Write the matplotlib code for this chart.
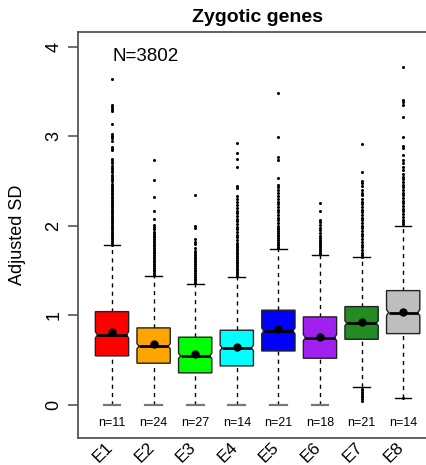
import numpy as np
import matplotlib
matplotlib.use('Agg')
import matplotlib.pyplot as plt

plt.rcParams['font.family'] = ['Liberation Sans', 'DejaVu Sans']

# box statistics per embryo stage
groups = ['E1', 'E2', 'E3', 'E4', 'E5', 'E6', 'E7', 'E8']
counts = [11, 24, 27, 14, 21, 18, 21, 14]
colors = ['#FF0000', '#FFA500', '#00FF00', '#00FFFF', '#0000FF', '#A020F0', '#228B22', '#BEBEBE']
q1 = [0.545, 0.463, 0.355, 0.433, 0.600, 0.519, 0.731, 0.794]
medians = [0.780, 0.653, 0.545, 0.634, 0.824, 0.749, 0.910, 1.029]
q3 = [1.040, 0.858, 0.754, 0.832, 1.056, 0.981, 1.096, 1.275]
means = [0.810, 0.675, 0.567, 0.649, 0.850, 0.757, 0.928, 1.037]
whisk_lo = [0.0, 0.0, 0.0, 0.0, 0.0, 0.0, 0.195, 0.078]
whisk_hi = [1.786, 1.443, 1.350, 1.425, 1.742, 1.674, 1.649, 2.000]
genes_per_group = 3802 / 8

# outliers
out_e1 = [3.64, 3.35, 3.33, 3.31, 3.28, 3.14, 3.03, 3.00, 2.98, 2.95, 2.88, 2.86, 2.85,
          2.75, 2.72, 2.70, 2.67, 2.65, 2.62, 2.60, 2.57, 2.55, 2.52, 2.50, 2.47, 2.45,
          2.43, 2.41, 2.39, 2.37, 2.35, 2.33, 2.31, 2.29, 2.27, 2.25, 2.23, 2.21, 2.19,
          2.17, 2.15, 2.13, 2.11, 2.09, 2.07, 2.05, 2.03, 2.01, 1.99, 1.97, 1.95, 1.93,
          1.91, 1.89, 1.87, 1.85, 1.83, 1.81, 1.79]
out_e2 = [2.74, 2.51, 2.32, 2.17, 2.08, 2.01, 1.99, 1.96, 1.93, 1.91, 1.89, 1.87, 1.85,
          1.83, 1.81, 1.79, 1.77, 1.75, 1.73, 1.71, 1.69, 1.67, 1.65, 1.63, 1.61, 1.59,
          1.57, 1.55, 1.53, 1.51, 1.49, 1.47, 1.45]
out_e3 = [2.34, 2.00, 1.97, 1.85, 1.82, 1.80, 1.75, 1.72, 1.69, 1.67, 1.65, 1.63, 1.61,
          1.59, 1.57, 1.55, 1.53, 1.51, 1.49, 1.47, 1.45, 1.43, 1.41, 1.39, 1.37, 1.36]
out_e4 = [2.93, 2.81, 2.75, 2.66, 2.44, 2.42, 2.33, 2.30, 2.27, 2.23, 2.20, 2.17, 2.14,
          2.11, 2.08, 2.05, 2.02, 1.99, 1.96, 1.93, 1.90, 1.87, 1.84, 1.81, 1.78, 1.76,
          1.74, 1.72, 1.70, 1.68, 1.66, 1.64, 1.62, 1.60, 1.58, 1.56, 1.54, 1.52, 1.50,
          1.48, 1.46, 1.44]
out_e5 = [3.49, 2.99, 2.77, 2.73, 2.53, 2.46, 2.43, 2.40, 2.37, 2.33, 2.30, 2.27, 2.24,
          2.21, 2.18, 2.15, 2.12, 2.09, 2.06, 2.03, 2.00, 1.98, 1.96, 1.94, 1.92, 1.90,
          1.88, 1.86, 1.84, 1.82, 1.80, 1.78, 1.76, 1.75]
out_e6 = [2.26, 2.16, 2.07, 2.04, 2.01, 1.98, 1.95, 1.92, 1.89, 1.86, 1.84, 1.82, 1.80,
          1.78, 1.76, 1.74, 1.72, 1.70, 1.68]
out_e7 = [2.91, 2.60, 2.50, 2.48, 2.45, 2.40, 2.37, 2.34, 2.30, 2.27, 2.24, 2.21, 2.18,
          2.15, 2.12, 2.09, 2.06, 2.03, 2.00, 1.97, 1.94, 1.91, 1.88, 1.85, 1.82, 1.79,
          1.76, 1.73, 1.70, 1.67, 1.65,
          0.18, 0.16, 0.14, 0.12, 0.10, 0.08, 0.06, 0.04]
out_e8 = [3.77, 3.41, 3.38, 3.35, 3.22, 2.99, 2.89, 2.87, 2.79, 2.73, 2.70, 2.66, 2.62,
          2.58, 2.55, 2.52, 2.49, 2.46, 2.43, 2.40, 2.37, 2.34, 2.31, 2.28, 2.25, 2.22,
          2.19, 2.16, 2.13, 2.10, 2.07, 2.04, 2.02, 0.07]
outliers = [out_e1, out_e2, out_e3, out_e4, out_e5, out_e6, out_e7, out_e8]

fig = plt.figure(figsize=(4.27, 4.65), dpi=100)
ax = fig.add_axes([0.1824, 0.0587, 0.8417, 0.8731])

box_w = 0.8
cap_w = 0.4
notch_depth = 0.05
axis_col = '#555555'

for i in range(len(groups)):
    x = i + 1
    lo, hi = x - box_w / 2, x + box_w / 2
    nh = 1.58 * (q3[i] - q1[i]) / np.sqrt(genes_per_group)
    # dashed whiskers
    ax.plot([x, x], [q3[i], whisk_hi[i]], color='black', lw=1, ls=(0, (3, 3)), zorder=1)
    ax.plot([x, x], [whisk_lo[i], q1[i]], color='black', lw=1, ls=(0, (3, 3)), zorder=1)
    # notched box
    bx = [lo, hi, hi, hi - notch_depth, hi, hi, lo, lo, lo + notch_depth, lo, lo]
    by = [q1[i], q1[i], medians[i] - nh, medians[i], medians[i] + nh, q3[i], q3[i],
          medians[i] + nh, medians[i], medians[i] - nh, q1[i]]
    ax.fill(bx, by, facecolor=colors[i], edgecolor='#222222', lw=1, zorder=2)
    ax.plot([lo + notch_depth, hi - notch_depth], [medians[i], medians[i]],
            color='black', lw=2, solid_capstyle='butt', zorder=3)
    ax.plot(x, means[i], 'o', color='black', ms=5, zorder=4)
    # caps
    ax.plot([x - cap_w / 2, x + cap_w / 2], [whisk_hi[i], whisk_hi[i]], color='black', lw=1, zorder=3)
    lo_col = '#777777' if whisk_lo[i] == 0 else 'black'
    lo_lw = 1.6 if whisk_lo[i] == 0 else 1
    ax.plot([x - cap_w / 2, x + cap_w / 2], [whisk_lo[i], whisk_lo[i]], color=lo_col, lw=lo_lw, zorder=3)
    # outlier points
    ax.plot([x] * len(outliers[i]), outliers[i], 'o', color='black', ms=2.2, mew=0, zorder=3)
    # sample counts and stage labels
    ax.text(x, -0.21, 'n=%d' % counts[i], ha='center', va='center', fontsize=9)
    ax.text(x - 0.22, -0.53, groups[i], ha='center', va='center', rotation=45,
            fontsize=12.5, clip_on=False)

ax.text(1.02, 3.89, 'N=3802', ha='left', va='center', fontsize=13.5)

ax.set_xlim(0.18, 8.82)
ax.set_ylim(-0.37, 4.17)
ax.set_xticks([])
ax.set_yticks([0, 1, 2, 3, 4])
ax.set_yticklabels(['0', '1', '2', '3', '4'], rotation=90, va='center', fontsize=13)
ax.tick_params(axis='y', length=7, width=1.2, color=axis_col, pad=4)
for side in ['left', 'top', 'bottom', 'right']:
    ax.spines[side].set_color(axis_col)
    ax.spines[side].set_linewidth(1.3)

ax.set_ylabel('Adjusted SD', fontsize=13, labelpad=14)
ax.set_title('Zygotic genes', fontsize=14, fontweight='bold', pad=7)

fig.savefig('out.png', dpi=100)
